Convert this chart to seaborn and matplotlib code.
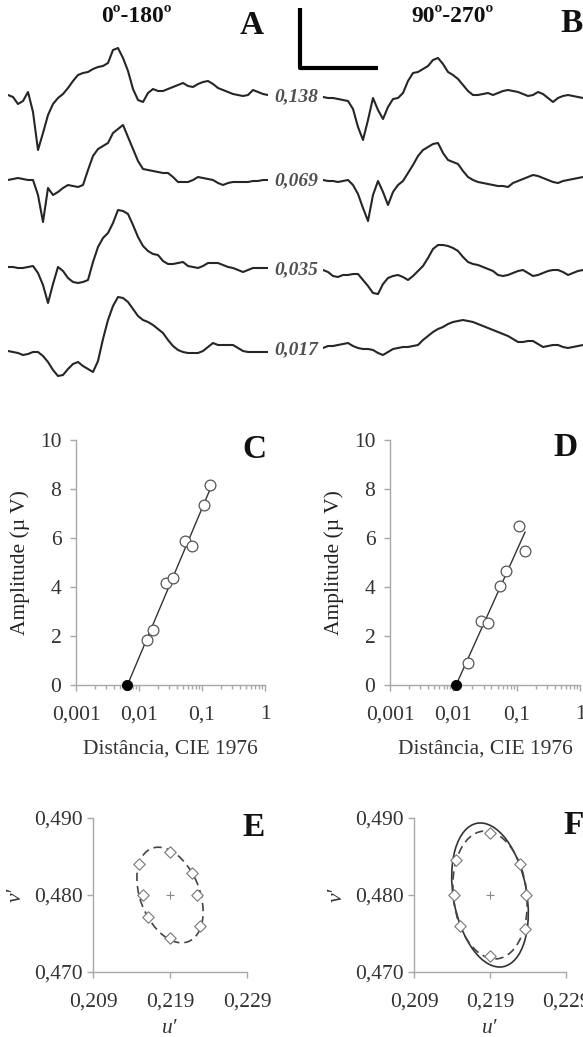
import numpy as np
import matplotlib.pyplot as plt
from matplotlib.patches import Ellipse
from matplotlib.ticker import FuncFormatter, NullFormatter
import seaborn as sns

sns.set_theme(style="ticks")
plt.rcParams["font.family"] = ["Liberation Serif", "DejaVu Serif"]

# averaged responses, one sample every 5 ms
t_ms = np.arange(0, 265, 5)
contrasts = ["0,138", "0,069", "0,035", "0,017"]

# 0º-180º direction (panel A)
a_0138 = [0, -2, -9, -6, 3, -17, -55, -38, -20, -9, -3, 1, 7, 14, 20, 22, 23, 26, 28, 29,
          32, 45, 47, 37, 24, 6, -5, -7, 2, 6, 4, 4, 6, 8, 10, 12, 9, 8, 11, 13,
          14, 11, 7, 5, 3, 1, 0, -1, 0, 5, 3, 1, 0]
a_0069 = [0, 1, 2, 1, 0, 0, -15, -42, -8, -15, -12, -8, -5, -6, -7, -5, 10, 24, 31, 34,
          37, 47, 51, 55, 43, 31, 19, 11, 10, 9, 8, 7, 7, 3, -2, -2, -2, 0, 3, 2,
          1, 0, -3, -5, -3, -2, -2, -2, -2, -1, -1, 0, 0]
a_0035 = [0, 0, -1, -1, 0, 1, -6, -18, -36, -17, 0, -4, -11, -15, -16, -15, -13, 5, 20, 29,
          34, 44, 57, 56, 53, 42, 30, 21, 16, 13, 12, 6, 3, 3, 4, 5, 1, 0, -1, 1,
          4, 4, 4, 2, 0, -1, -3, -5, -3, -1, -1, -1, -1]
a_0017 = [0, -1, -2, -4, -3, -1, -1, -5, -11, -19, -25, -24, -18, -13, -11, -15, -18, -21, -10, 12,
          31, 45, 54, 53, 49, 42, 35, 31, 29, 26, 22, 18, 11, 5, 1, -1, -2, -2, -2, 0,
          4, 8, 6, 6, 6, 6, 3, 0, -1, -1, -1, -1, -1]

# 90º-270º direction (panel B)
b_0138 = [0, -1, -1, -2, -3, -4, -12, -30, -43, -23, -1, -13, -22, -10, -2, -1, 4, 16, 24, 25,
          28, 31, 37, 39, 33, 25, 22, 18, 12, 6, 2, 2, 3, 4, 2, 4, 6, 7, 6, 5,
          3, 1, 2, 5, 3, -1, -5, -1, 1, 2, 1, 0, -1]
b_0069 = [0, -1, -1, -2, -1, 0, -5, -14, -28, -41, -15, -1, -12, -25, -12, -5, -1, 7, 15, 24,
          30, 33, 36, 37, 27, 20, 18, 16, 9, 3, 0, -2, -3, -4, -5, -6, -6, -7, -3, -1,
          1, 3, 5, 4, 2, 0, -2, -3, -1, 0, 1, 2, 3]
b_0035 = [0, -2, -6, -7, -5, -5, -4, -4, -10, -16, -23, -24, -14, -8, -6, -5, -7, -10, -6, -1,
          4, 12, 21, 25, 25, 24, 22, 19, 13, 8, 6, 5, 3, 1, -1, -5, -6, -5, -3, -1,
          0, -3, -6, -5, -3, -1, 0, 0, -2, -5, -3, -1, 0]
b_0017 = [0, 2, 2, 3, 4, 5, 2, 0, -1, -1, -2, -5, -7, -4, -1, 0, 1, 1, 2, 3,
          8, 12, 16, 19, 21, 24, 26, 27, 28, 27, 26, 24, 22, 20, 18, 16, 14, 12, 9, 6,
          6, 7, 7, 4, 1, 2, 3, 3, 1, 0, 1, 2, 3]

# amplitude vs CIE 1976 distance
c_dist = [0.134, 0.108, 0.0537, 0.0693, 0.0268, 0.0347, 0.0165, 0.0134]
c_amp = [8.16, 7.35, 5.88, 5.67, 4.16, 4.37, 2.24, 1.84]
d_dist = [0.109, 0.136, 0.068, 0.0547, 0.0274, 0.0353, 0.0171]
d_amp = [6.49, 5.47, 4.65, 4.04, 2.61, 2.53, 0.90]

# thresholds in u'v' along eight directions
uv_center = (0.219, 0.480)
e_u = [0.2190, 0.2219, 0.2225, 0.2229, 0.2190, 0.2161, 0.2155, 0.2150]
e_v = [0.4856, 0.4829, 0.4800, 0.4760, 0.4744, 0.4771, 0.4800, 0.4840]
f_u = [0.2190, 0.2229, 0.2237, 0.2236, 0.2190, 0.2150, 0.2143, 0.2145]
f_v = [0.4880, 0.4840, 0.4800, 0.4756, 0.4721, 0.4760, 0.4800, 0.4846]
# fitted ellipses: semi-major, semi-minor, angle (deg)
e_fit = (0.00650, 0.00385, 111.6)
f_fit_dash = (0.00834, 0.00483, 96.8)
f_fit_solid = (0.00947, 0.00482, 100.4)

W, H = 583, 1037
fig = plt.figure(figsize=(W / 100, H / 100), dpi=100)


def box(l, t, r, b):
    return [l / W, 1 - b / H, (r - l) / W, (b - t) / H]


comma = FuncFormatter(lambda x, p: f"{x:g}".replace(".", ","))
comma3 = FuncFormatter(lambda x, p: f"{x:.3f}".replace(".", ","))
TXT = "#333333"
SPINE = "#a8a8a8"
FS = 15.5


def style_axes(ax, xpad, ypad):
    sns.despine(ax=ax)
    for s in ("left", "bottom"):
        ax.spines[s].set_color(SPINE)
        ax.spines[s].set_linewidth(1.0)
    ax.tick_params(which="both", direction="out", color=SPINE, labelcolor=TXT,
                   labelsize=FS, width=1.0)
    ax.tick_params(which="major", length=4.5)
    ax.tick_params(which="minor", length=3)
    ax.tick_params(axis="x", which="major", pad=xpad)
    ax.tick_params(axis="y", which="major", pad=ypad)
    ax.set_facecolor("none")


# traces A and B
ax_a = fig.add_axes(box(8, 0, 268, 400))
ax_b = fig.add_axes(box(323, 0, 583, 400))
traces = [(ax_a, [a_0138, a_0069, a_0035, a_0017], [95, 180, 267, 351]),
          (ax_b, [b_0138, b_0069, b_0035, b_0017], [97, 180, 270, 348])]
for ax, series, depth in traces:
    for vals, d in zip(series, depth):
        sns.lineplot(x=t_ms, y=np.array(vals) - d, ax=ax, color="#262626", lw=1.5,
                     solid_joinstyle="round")
    ax.set_xlim(0, 260)
    ax.set_ylim(-400, 0)
    ax.axis("off")


# amplitude panels C and D
def amp_panel(rect, dist, amp):
    ax = fig.add_axes(rect)
    ax.set_xscale("log")
    lx = np.log10(dist)
    slope, icpt = np.polyfit(lx, amp, 1)
    thr = 10 ** (-icpt / slope)
    xs = np.array([thr, max(dist)])
    sns.lineplot(x=xs, y=icpt + slope * np.log10(xs), ax=ax, color="#333333", lw=1.0)
    sns.scatterplot(x=dist, y=amp, ax=ax, marker="o", s=60, color="white",
                    edgecolor="#555555", linewidth=0.9, zorder=3)
    sns.scatterplot(x=[thr], y=[0], ax=ax, marker="o", s=55, color="black",
                    edgecolor="black", zorder=4, clip_on=False)
    ax.set_xlim(0.001, 1)
    ax.set_ylim(0, 10)
    ax.set_xticks([0.001, 0.01, 0.1, 1])
    ax.set_yticks(range(0, 11, 2))
    ax.xaxis.set_major_formatter(comma)
    ax.xaxis.set_minor_formatter(NullFormatter())
    style_axes(ax, xpad=10, ypad=6)
    ax.set_xlabel("Distância, CIE 1976", fontsize=FS, color=TXT, labelpad=11)
    ax.set_ylabel("Amplitude (µ V)", fontsize=FS, color="#222222", labelpad=7)
    return ax


amp_panel(box(76, 440, 265, 685), c_dist, c_amp)
amp_panel(box(390, 440, 580, 685), d_dist, d_amp)


# chromaticity panels E and F
def uv_panel(rect, u, v, dashed, solid=None):
    ax = fig.add_axes(rect)
    if solid is not None:
        a, b, ang = solid
        ax.add_patch(Ellipse(uv_center, 2 * a, 2 * b, angle=ang, fill=False,
                             ec="#333333", lw=1.2))
    a, b, ang = dashed
    ax.add_patch(Ellipse(uv_center, 2 * a, 2 * b, angle=ang, fill=False,
                         ec="#444444", lw=1.2, ls=(0, (5, 3))))
    sns.scatterplot(x=u, y=v, ax=ax, marker="D", s=34, color="white",
                    edgecolor="#777777", linewidth=0.8, zorder=3)
    sns.scatterplot(x=[uv_center[0]], y=[uv_center[1]], ax=ax, marker="+", s=30,
                    color="#888888", linewidth=0.8, zorder=3)
    ax.set_xlim(0.209, 0.229)
    ax.set_ylim(0.470, 0.490)
    ax.set_xticks([0.209, 0.219, 0.229])
    ax.set_yticks([0.470, 0.480, 0.490])
    ax.xaxis.set_major_formatter(comma3)
    ax.yaxis.set_major_formatter(comma3)
    style_axes(ax, xpad=10, ypad=3)
    ax.set_xlabel("u′", fontsize=FS, fontstyle="italic", color=TXT, labelpad=6)
    ax.set_ylabel("v′", fontsize=FS, fontstyle="italic", color=TXT, labelpad=6)
    return ax


uv_panel(box(93, 818, 247, 972), e_u, e_v, e_fit)
uv_panel(box(414, 818, 566, 972), f_u, f_v, f_fit_dash, f_fit_solid)

# overlay for titles, panel letters, contrast labels and scale bar
ov = fig.add_axes([0, 0, 1, 1])
ov.set_xlim(0, W)
ov.set_ylim(H, 0)
ov.axis("off")
ov.plot([300, 300, 378], [8, 68, 68], color="black", lw=3, solid_capstyle="butt")
ov.text(136, 17, "0º-180º", fontsize=17, fontweight="bold", ha="center", va="center", color="#111")
ov.text(452, 16, "90º-270º", fontsize=17, fontweight="bold", ha="center", va="center", color="#111")
for lab, x, y in [("A", 252, 26), ("B", 572, 23), ("C", 254, 449), ("D", 566, 448),
                  ("E", 254, 828), ("F", 574, 825)]:
    ov.text(x, y, lab, fontsize=24, fontweight="bold", ha="center", va="center", color="#111")
for lab, y in zip(contrasts, [97, 181, 270, 350]):
    ov.text(296, y, lab, fontsize=14, fontweight="bold", fontstyle="italic",
            ha="center", va="center", color="#505050")

fig.savefig("out.png", dpi=100)
